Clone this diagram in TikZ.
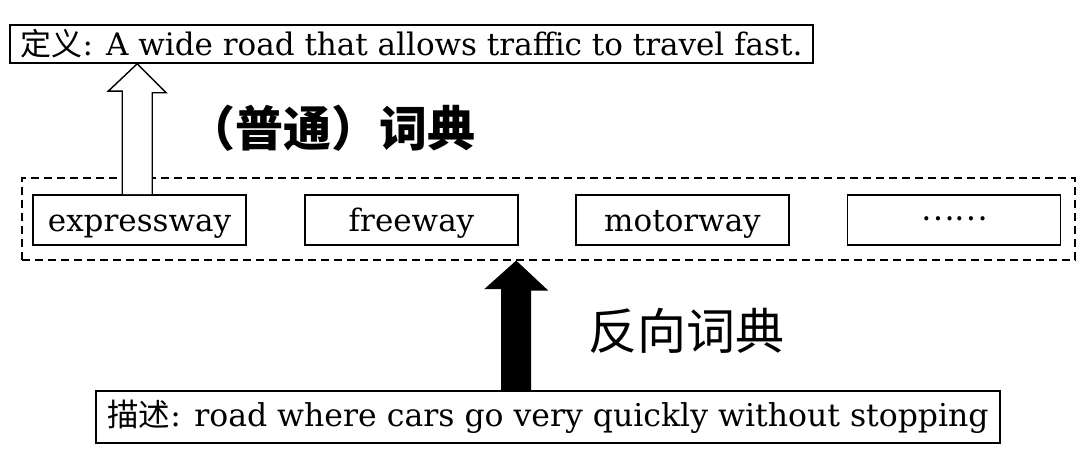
\documentclass[tikz,border=0pt]{standalone}
\usepackage{fontspec}
\setmainfont{DejaVu Serif}
\newfontfamily\cjk{Noto Sans CJK SC}
\usetikzlibrary{calc}
\begin{document}
\begin{tikzpicture}[x=1pt,y=1pt,
  wordbox/.style={draw, line width=1.6pt, inner sep=0pt, minimum width=213pt, minimum height=50pt, text height=24pt, text depth=0pt, font=\fontsize{31}{34}\selectfont},
  textbox/.style={draw, line width=1.6pt, inner sep=0pt},
  grpbox/.style={draw, line width=1.1pt, dash pattern=on 8pt off 5pt, inner sep=0pt, minimum width=1053pt, minimum height=82pt},
  biglabel/.style={font=\cjk\fontsize{49}{54}\selectfont},
  hollowarrow/.style={draw, line width=1.4pt, fill=white, line join=miter},
  solidarrow/.style={fill=black}
]
\useasboundingbox (0,0) rectangle (1080,-457);
\node[textbox, minimum width=803pt, minimum height=38pt, font=\fontsize{31}{34}\selectfont] (def) at (411.5,-44) {{\cjk 定义}: A wide road that allows traffic to travel fast.};
\node[grpbox] (grp) at (548.5,-219) {};
\node[wordbox] (b1) at (139.5,-220) {expressway};
\node[wordbox] (b2) at (411.5,-220) {freeway};
\node[wordbox] (b3) at (682.5,-220) {motorway};
\node[wordbox] (b4) at (954,-220) {\raisebox{11pt}{\cjk ……}};
\node[textbox, minimum width=904pt, minimum height=52pt, font=\fontsize{31.5}{34}\selectfont] (desc) at (548,-417) {{\cjk 描述}: road where cars go very quickly without stopping};
\node[biglabel, font=\cjk\bfseries\fontsize{48}{54}\selectfont] (l1) at (331,-128) {（普通）词典};
\node[biglabel] (l2) at (686,-331) {反向词典};
% hollow arrow from expressway up to definition
\coordinate (hb) at ($(b1.north west)+(105,0)$);
\coordinate (ht) at (hb |- def.south);
\draw[hollowarrow] ([xshift=-15pt]hb) -- ++(0,103) -- ++(-14,0) -- (ht) -- ++(29,-29) -- ++(-14,0) -- ([xshift=15pt]hb);
% solid arrow from description up to group
\coordinate (sb) at ($(desc.north west)+(421,0)$);
\coordinate (st) at (sb |- grp.south);
\fill[solidarrow] ([xshift=-15pt]sb) -- ++(0,101) -- ++(-17,0) -- (st) -- ++(32,-30) -- ++(-17,0) -- ([xshift=15pt]sb) -- cycle;
\end{tikzpicture}
\end{document}
